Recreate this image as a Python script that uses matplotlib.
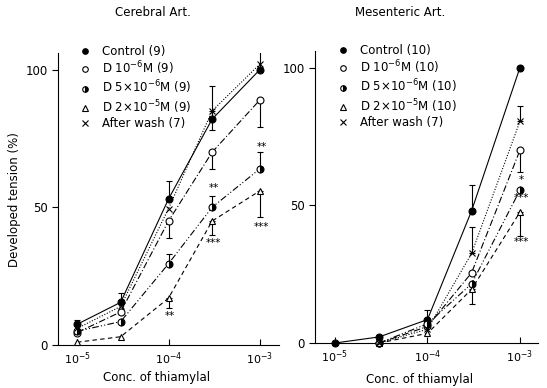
import numpy as np
import matplotlib
matplotlib.use('Agg')
import matplotlib.pyplot as plt
from matplotlib.lines import Line2D

nan = np.nan

# concentraciones de thiamylal (M)
conc = [1e-5, 3e-5, 1e-4, 3e-4, 1e-3]

# Cerebral Art. : valores y errores (abajo, arriba)
cer_control = [7.5, 15.5, 53, 82, 100]
cer_control_err = ([0, 0, 0, 0, 0], [1.5, 3.5, 6.5, 12, 7])
cer_d6 = [4.5, 12, 45, 70, 89]
cer_d6_err = ([0, 0, 6, 6, 10], [0, 0, 0, 0, 0])
cer_d5 = [5, 8.5, 29.5, 50, 64]
cer_d5_err = ([0, 0, 0, 0, 0], [0, 0, 3.5, 4, 6])
cer_d2 = [1, 3, 17, 45, 56]
cer_d2_err = ([0, 0, 3.5, 5, 9.5], [0, 0, 0, 0, 0])
cer_wash = [6, 14, 49.5, 85, 102]
cer_wash_err = ([0, 0, 0, 7, 0], [0, 0, 0, 0, 0])
cer_labels = ['Control (9)', 'D $10^{-6}$M (9)', 'D 5×$10^{-6}$M (9)',
              'D 2×$10^{-5}$M (9)', 'After wash (7)']
cer_stars = [(1e-4, 10.5, '**'), (3e-4, 57, '**'), (3e-4, 37, '***'),
             (1e-3, 72, '**'), (1e-3, 43, '***')]

# Mesenteric Art.
mes_control = [0, 2.2, 8.5, 48, 100]
mes_control_err = ([0, 0, 0, 0, 0], [0, 0, 3.5, 9.5, 0])
mes_d6 = [nan, 0, 6, 25.5, 70]
mes_d6_err = ([0, 0, 0, 0, 8], [0, 0, 0, 0, 0])
mes_d5 = [nan, 0, 7, 21.5, 55.5]
mes_d5_err = ([0, 0, 0, 0, 0], [0, 0, 0, 0, 0])
mes_d2 = [nan, 0, 3.5, 19.5, 47.5]
mes_d2_err = ([0, 0, 0, 5.5, 8.5], [0, 0, 0, 0, 0])
mes_wash = [nan, 0, 5, 32.5, 80.5]
mes_wash_err = ([0, 0, 0, 0, 0], [0, 0, 0, 9.5, 5.5])
mes_labels = ['Control (10)', 'D $10^{-6}$M (10)', 'D 5×$10^{-6}$M (10)',
              'D 2×$10^{-5}$M (10)', 'After wash (7)']
mes_stars = [(1e-3, 59, '*'), (1e-3, 52.5, '***'), (1e-3, 36.5, '***')]

# estilos: control, D1e-6, D5e-6, D2e-5, wash
estilos = [
    dict(marker='o', mfc='k', ls='-'),
    dict(marker='o', mfc='white', ls=(0, (6, 2, 1, 2))),
    dict(marker='o', mfc='k', fillstyle='right', mfcalt='white', ls=(0, (6, 2, 1, 2, 1, 2))),
    dict(marker='^', mfc='white', ls=(0, (4, 3))),
    dict(marker='x', mfc='k', ls=(0, (1, 1.5))),
]

plt.rcParams['font.family'] = 'DejaVu Sans'
plt.rcParams['mathtext.default'] = 'regular'

fig = plt.figure(figsize=(5.47, 3.88), dpi=100)


def panel(rect, series, errs, labels, stars, xlim, leg_pos):
    ax = fig.add_axes(rect)
    for y, e, st in zip(series, errs, estilos):
        ax.plot(conc, y, color='k', lw=0.8, ls=st['ls'], marker=st['marker'],
                ms=5, mfc=st['mfc'], mec='k', mew=0.8,
                fillstyle=st.get('fillstyle', 'full'),
                markerfacecoloralt=st.get('mfcalt', 'white'), clip_on=False, zorder=3)
        lo, up = e
        idx = [i for i in range(len(conc)) if lo[i] > 0 or up[i] > 0]
        if idx:
            ax.errorbar([conc[i] for i in idx], [y[i] for i in idx],
                        yerr=[[lo[i] for i in idx], [up[i] for i in idx]],
                        fmt='none', ecolor='k', elinewidth=0.8, capsize=2.5,
                        capthick=0.8, zorder=2)
    for x, y, s in stars:
        ax.text(x * 1.04, y, s, ha='center', va='center', fontsize=7.5)
    ax.set_xscale('log')
    ax.set_xlim(xlim)
    ax.set_ylim(0, 106)
    ax.set_xticks([1e-5, 1e-4, 1e-3])
    ax.minorticks_off()
    ax.set_yticks([0, 50, 100])
    ax.tick_params(axis='x', direction='in', length=4, width=0.8, labelsize=8, pad=4)
    ax.tick_params(axis='y', direction='out', length=4, width=0.8, labelsize=8.5)
    for s in ['top', 'right']:
        ax.spines[s].set_visible(False)
    for s in ['left', 'bottom']:
        ax.spines[s].set_linewidth(0.8)
    handles = [Line2D([], [], ls='none', marker=st['marker'], ms=4, mfc=st['mfc'], mec='k',
                      mew=0.8, color='k', fillstyle=st.get('fillstyle', 'full'),
                      markerfacecoloralt=st.get('mfcalt', 'white')) for st in estilos]
    ax.legend(handles, labels, loc='upper left', bbox_to_anchor=leg_pos,
              bbox_transform=fig.transFigure, frameon=False, fontsize=8.5,
              handlelength=1.0, handletextpad=0.95, labelspacing=0.14, borderpad=0)
    return ax


panel([58 / 547, 43 / 388, 221 / 547, 292 / 388],
      [cer_control, cer_d6, cer_d5, cer_d2, cer_wash],
      [cer_control_err, cer_d6_err, cer_d5_err, cer_d2_err, cer_wash_err],
      cer_labels, cer_stars, (10 ** -5.208, 10 ** -2.792), (73 / 547, 1 - 39 / 388))

panel([315 / 547, 45 / 388, 223 / 547, 292 / 388],
      [mes_control, mes_d6, mes_d5, mes_d2, mes_wash],
      [mes_control_err, mes_d6_err, mes_d5_err, mes_d2_err, mes_wash_err],
      mes_labels, mes_stars, (10 ** -5.216, 10 ** -2.805), (331 / 547, 1 - 38 / 388))

fig.text(153 / 547, 1 - 13 / 388, 'Cerebral Art.', ha='center', va='center', fontsize=8.5)
fig.text(400 / 547, 1 - 13 / 388, 'Mesenteric Art.', ha='center', va='center', fontsize=8.5)
fig.text(15 / 547, 1 - 200 / 388, 'Developed tension (%)', rotation=90,
         ha='center', va='center', fontsize=8.5)
fig.text(157 / 547, 1 - 378 / 388, 'Conc. of thiamylal', ha='center', va='center', fontsize=8.5)
fig.text(420 / 547, 1 - 380 / 388, 'Conc. of thiamylal', ha='center', va='center', fontsize=8.5)

fig.savefig('out.png', dpi=100)
